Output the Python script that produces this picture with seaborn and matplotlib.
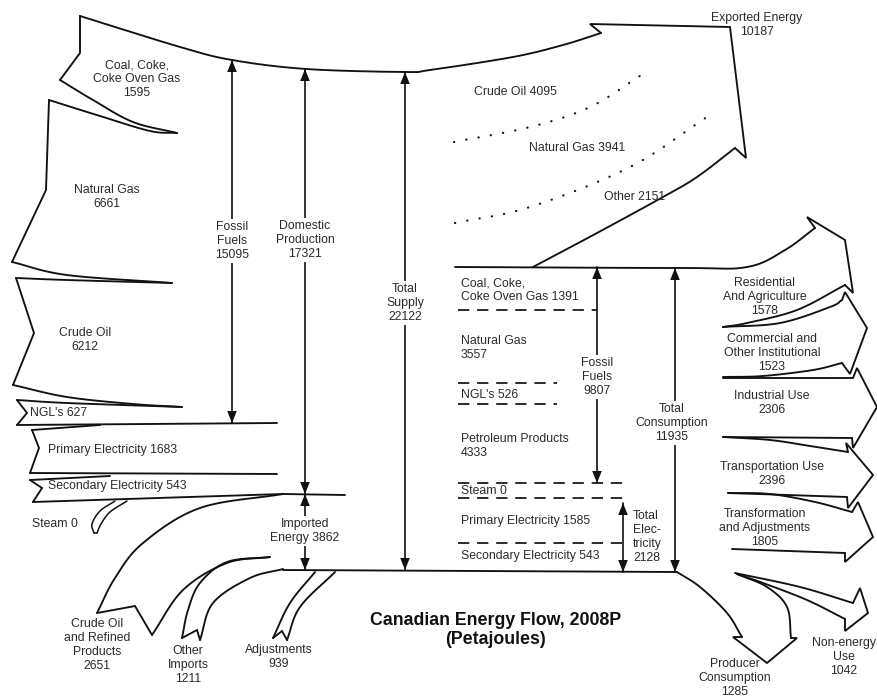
import numpy as np
import pandas as pd
import matplotlib
matplotlib.use("Agg")
import matplotlib.pyplot as plt
import seaborn as sns

# ---------------- data ----------------
supply_labels = ["Coal, Coke,\nCoke Oven Gas", "Natural Gas", "Crude Oil", "NGL's",
                 "Primary Electricity", "Secondary Electricity", "Steam"]
supply_values = [1595, 6661, 6212, 627, 1683, 543, 0]
supply_sep = ["\n", "\n", "\n", " ", " ", " ", " "]

import_labels = ["Crude Oil\nand Refined\nProducts", "Other\nImports", "Adjustments"]
import_values = [2651, 1211, 939]

export_labels = ["Crude Oil", "Natural Gas", "Other"]
export_values = [4095, 3941, 2151]
exported_label = "Exported Energy"
exported_total = 10187

supply_total_labels = ["Fossil\nFuels", "Domestic\nProduction", "Imported\nEnergy", "Total\nSupply"]
supply_total_values = [15095, 17321, 3862, 22122]
supply_total_sep = ["\n", "\n", " ", "\n"]

fuel_labels = ["Coal, Coke,\nCoke Oven Gas", "Natural Gas", "NGL's", "Petroleum Products",
               "Steam", "Primary Electricity", "Secondary Electricity"]
fuel_values = [1391, 3557, 526, 4333, 0, 1585, 543]
fuel_sep = [" ", "\n", " ", "\n", " ", " ", " "]

cons_total_labels = ["Fossil\nFuels", "Total\nElec-\ntricity", "Total\nConsumption"]
cons_total_values = [9807, 2128, 11935]

use_labels = ["Residential\nAnd Agriculture", "Commercial and\nOther Institutional",
              "Industrial Use", "Transportation Use", "Transformation\nand Adjustments",
              "Producer\nConsumption", "Non-energy\nUse"]
use_values = [1578, 1523, 2306, 2396, 1805, 1285, 1042]

title = "Canadian Energy Flow, 2008P\n(Petajoules)"

# ---------------- style ----------------
sns.set_theme(style="white")
plt.rcParams["font.family"] = ["Liberation Sans", "DejaVu Sans"]

LW = 1.35
LC = "#111111"
TC = "#2a2a2a"
FS = 8.8

fig = plt.figure(figsize=(8.78, 6.98), dpi=100)
ax = fig.add_axes([0, 0, 1, 1])


def smooth(pts, n=30):
    pts = np.asarray(pts, float)
    if len(pts) == 2:
        return pts
    P = np.vstack([2 * pts[0] - pts[1], pts, 2 * pts[-1] - pts[-2]])
    out = []
    t = np.linspace(0, 1, n, endpoint=False)[:, None]
    for i in range(1, len(P) - 2):
        p0, p1, p2, p3 = P[i - 1], P[i], P[i + 1], P[i + 2]
        seg = 0.5 * ((2 * p1) + (-p0 + p2) * t + (2 * p0 - 5 * p1 + 4 * p2 - p3) * t ** 2
                     + (-p0 + 3 * p1 - 3 * p2 + p3) * t ** 3)
        out.append(seg)
    out.append(pts[-1:])
    return np.vstack(out)


def curve(pts, lw=LW):
    c = smooth(pts)
    ax.plot(c[:, 0], c[:, 1], color=LC, lw=lw, solid_capstyle="round", solid_joinstyle="round")


def poly(pts, lw=LW):
    c = np.asarray(pts, float)
    ax.plot(c[:, 0], c[:, 1], color=LC, lw=lw, solid_capstyle="round", solid_joinstyle="miter")


def head(x, y, d):
    # filled triangle, tip at (x, y); d = -1 up, +1 down
    w, h = 4.8, 12
    ax.fill([x - w, x + w, x], [y - d * h, y - d * h, y], color=LC, lw=0, zorder=5)


def varrow(x, y0, y1, up=True, down=True, lw=1.2):
    ax.plot([x, x], [y0, y1], color=LC, lw=lw)
    if up:
        head(x, y0, -1)
    if down:
        head(x, y1, 1)


def label(x, y, s, ha="center", fs=FS, box=False, **kw):
    bb = dict(boxstyle="square,pad=0.15", fc="white", ec="none") if box else None
    ax.text(x, y, s, ha=ha, va="center", fontsize=fs, color=TC, linespacing=1.22,
            bbox=bb, zorder=6, **kw)


# ---------------- supply side outlines ----------------
# top edge of the main flow into the export arrow
curve([(80, 16), (180, 47), (232, 60), (306, 69), (405, 72), (430, 70), (513, 57), (563, 45), (601, 33)])
poly([(601, 33), (590, 24), (730, 27), (746, 158), (735, 148)])
curve([(735, 148), (697, 177), (663, 197), (597, 233), (533, 267)])

# coal
poly([(80, 16), (80, 53), (60, 80)])
curve([(60, 80), (93, 100), (133, 122), (177, 133)])
# natural gas
curve([(49, 100), (100, 116), (150, 131), (177, 133)])
poly([(49, 100), (46, 190), (12, 262)])
curve([(12, 262), (67, 275), (172, 283)])
# crude oil
curve([(16, 278), (67, 280), (172, 283)])
poly([(16, 278), (34, 333), (13, 385)])
curve([(13, 385), (67, 397), (133, 404), (182, 407)])
# NGL
curve([(17, 400), (67, 403), (182, 407)])
poly([(17, 400), (27, 413), (17, 425)])
poly([(17, 425), (277, 423)])
# primary electricity
poly([(32, 430), (100, 425)])
poly([(32, 430), (39, 448), (30, 473)])
poly([(30, 473), (277, 474)])
# secondary electricity
poly([(30, 480), (110, 476)])
poly([(30, 480), (42, 488), (33, 502)])
poly([(33, 502), (283, 494), (345, 495)])
# steam
curve([(115, 501), (100, 511), (92, 524), (94, 533)], lw=1.1)
curve([(127, 501), (110, 512), (101, 524), (97, 533)], lw=1.1)
poly([(94, 533), (97, 533)], lw=1.1)

# imports
curve([(283, 494), (200, 508), (143, 543), (115, 578), (97, 613)])
poly([(97, 613), (135, 606), (152, 635)])
curve([(152, 635), (183, 590), (227, 563), (270, 557)])

curve([(270, 557), (227, 562), (200, 583), (188, 610), (182, 638)])
poly([(182, 638), (197, 630), (200, 640)])
curve([(200, 640), (213, 603), (250, 578), (283, 569)])

curve([(273, 638), (290, 603), (315, 572)])
poly([(273, 638), (282, 631), (287, 640)])
curve([(287, 640), (300, 607), (335, 572)])

# main bottom line
poly([(283, 570), (677, 572)])

# ---------------- consumption side outlines ----------------
curve([(455, 267), (680, 268), (747, 267), (785, 250), (815, 228)])
# residential
poly([(815, 228), (807, 217), (845, 240), (853, 293), (845, 285)])
curve([(845, 285), (797, 310), (747, 323), (723, 327)])
# commercial
curve([(723, 327), (780, 323), (830, 307), (842, 300)])
poly([(842, 300), (845, 292), (867, 328), (850, 374), (842, 363)])
curve([(842, 363), (813, 370), (763, 376), (723, 377)])
# industrial
poly([(723, 378), (853, 378), (857, 368), (877, 407), (853, 448), (852, 438), (723, 437)])
# transportation
curve([(723, 437), (770, 440), (810, 446), (848, 452)])
poly([(848, 452), (846, 443), (873, 475), (848, 508), (847, 497), (728, 493)])
# transformation
curve([(728, 493), (770, 494), (815, 502), (852, 512)])
poly([(852, 512), (858, 502), (873, 537), (845, 562), (845, 553), (732, 549)])
# non-energy
curve([(735, 573), (800, 587), (853, 603)])
poly([(853, 603), (860, 588), (868, 613), (845, 631), (845, 619)])
curve([(845, 619), (807, 600), (763, 583), (737, 574)])
# producer consumption
curve([(677, 572), (700, 587), (727, 613), (742, 637)])
poly([(742, 637), (733, 637), (767, 663), (797, 638), (791, 638)])
curve([(791, 638), (787, 607), (767, 587), (737, 574)])

# dashed fuel separators
dash_y = [310, 383, 404, 483, 498, 543]
dash_x1 = [597, 557, 557, 623, 623, 623]
for yy, x1 in zip(dash_y, dash_x1):
    ax.plot([458, x1], [yy, yy], color=LC, lw=1.25, dashes=(6.5, 4.5))

# dotted export separators (seaborn)
d1 = smooth([(454, 142), (530, 127), (590, 107), (643, 74)])
d2 = smooth([(455, 223), (530, 207), (630, 167), (707, 117)])
dots = pd.DataFrame({
    "x": np.r_[d1[:, 0], d2[:, 0]],
    "y": np.r_[d1[:, 1], d2[:, 1]],
    "g": ["a"] * len(d1) + ["b"] * len(d2),
})
for g, sub in dots.groupby("g"):
    sns.lineplot(data=sub, x="x", y="y", sort=False, estimator=None, ax=ax,
                 color=LC, lw=1.6, linestyle=(0, (0.1, 5.5)), dash_capstyle="round")

# ---------------- total arrows ----------------
varrow(232, 60, 423)
varrow(305, 69, 494, up=True, down=True)
varrow(305, 494, 570, up=True, down=True)
varrow(405, 72, 570)
varrow(597, 267, 483)
varrow(623, 503, 572)
varrow(675, 268, 572)

# ---------------- labels ----------------
sup_pos = [(137, 79, "center"), (107, 197, "center"), (85, 340, "center"), (30, 413, "left"),
           (48, 450, "left"), (48, 486, "left"), (32, 524, "left")]
for (x, y, ha), lab, v, sep in zip(sup_pos, supply_labels, supply_values, supply_sep):
    label(x, y, f"{lab}{sep}{v}", ha=ha)

imp_pos = [(97, 645), (188, 665), (279, 657)]
for (x, y), lab, v in zip(imp_pos, import_labels, import_values):
    label(x, y, f"{lab}\n{v}")

exp_pos = [(515, 92), (577, 148), (635, 197)]
for (x, y), lab, v in zip(exp_pos, export_labels, export_values):
    label(x, y, f"{lab} {v}")
label(757, 25, f"{exported_label}\n{exported_total}")

st_pos = [(232, 241), (305, 240), (305, 531), (405, 303)]
for (x, y), lab, v, sep in zip(st_pos, supply_total_labels, supply_total_values, supply_total_sep):
    label(x, y, f"{lab}{sep}{v}", box=True)

fuel_pos = [290, 348, 395, 446, 491, 521, 556]
for y, lab, v, sep in zip(fuel_pos, fuel_labels, fuel_values, fuel_sep):
    label(461, y, f"{lab}{sep}{v}", ha="left")

ct_pos = [(597, 377, "center"), (633, 537, "left"), (672, 423, "center")]
for (x, y, ha), lab, v in zip(ct_pos, cons_total_labels, cons_total_values):
    label(x, y, f"{lab}\n{v}", ha=ha, box=(ha == "center"))

use_pos = [(765, 297), (772, 353), (772, 403), (772, 474), (765, 528), (735, 678), (844, 657)]
for (x, y), lab, v in zip(use_pos, use_labels, use_values):
    label(x, y, f"{lab}\n{v}")

ax.text(496, 630, title, ha="center", va="center", fontsize=12.8, fontweight="bold",
        color="#111111", linespacing=1.15)

ax.set_xlim(0, 878)
ax.set_ylim(698, 0)
ax.axis("off")
fig.savefig("out.png", dpi=100, facecolor="white")
